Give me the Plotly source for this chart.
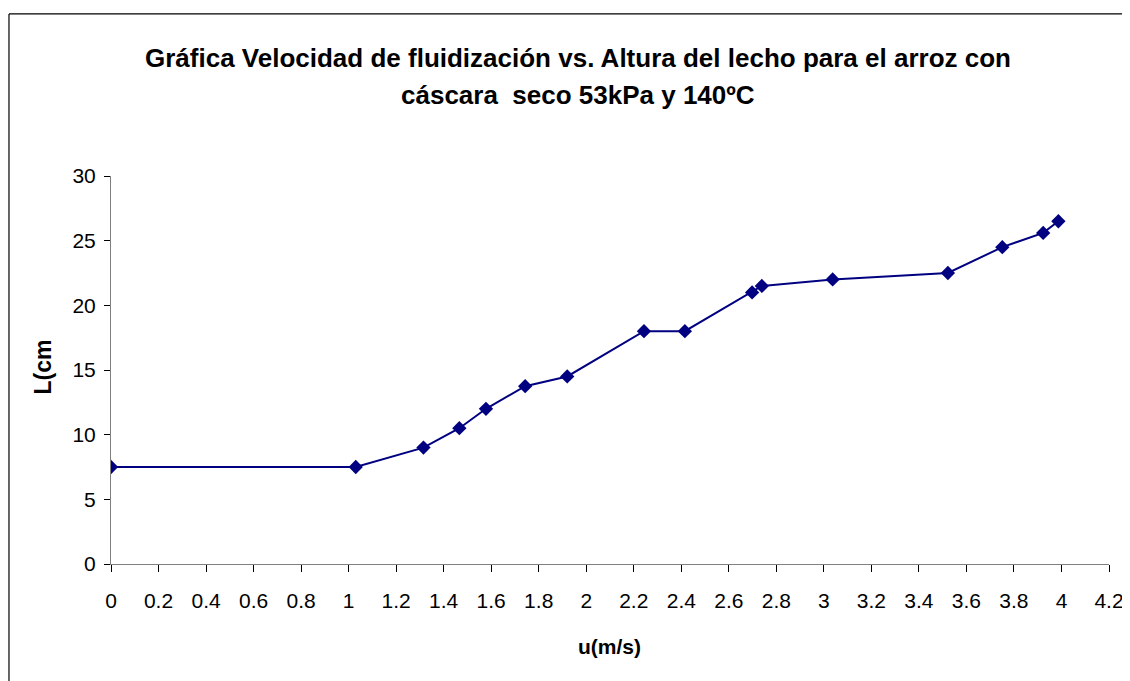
import plotly.graph_objects as go

# Data
u_ms = [0.0, 1.03, 1.315, 1.466, 1.578, 1.743, 1.92, 2.243, 2.415, 2.698, 2.739, 3.037, 3.522, 3.751, 3.923, 3.987]
L_cm = [7.5, 7.5, 9.0, 10.5, 12.0, 13.75, 14.5, 18.0, 18.0, 21.0, 21.5, 22.0, 22.5, 24.5, 25.6, 26.5]

x_tick_vals = [0, 0.2, 0.4, 0.6, 0.8, 1.0, 1.2, 1.4, 1.6, 1.8, 2.0, 2.2, 2.4, 2.6, 2.8, 3.0, 3.2, 3.4, 3.6, 3.8, 4.0, 4.2]
x_tick_text = ["0", "0.2", "0.4", "0.6", "0.8", "1", "1.2", "1.4", "1.6", "1.8", "2", "2.2", "2.4", "2.6", "2.8", "3", "3.2", "3.4", "3.6", "3.8", "4", "4.2"]
y_tick_vals = [0, 5, 10, 15, 20, 25, 30]
y_tick_text = ["0", "5", "10", "15", "20", "25", "30"]

title_line1 = "Gráfica Velocidad de fluidización vs. Altura del lecho para el arroz con"
title_line2 = "cáscara\u00a0 seco 53kPa y 140ºC"
x_title = "u(m/s)"
y_title = "L(cm"

FONT = "Liberation Sans, Arial, sans-serif"

W, H = 1130, 681
OFF = 8  # page body margin offset of the rendered figure

fig = go.Figure()
fig.add_trace(go.Scatter(
    x=u_ms, y=L_cm, mode="lines+markers",
    line=dict(color="#000080", width=2),
    marker=dict(symbol="diamond", size=11, color="#000080"),
    showlegend=False,
))

L_M = 110.7 - OFF
T_M = 175.7 - OFF
R_M = W - (1109.5 - OFF)
B_M = H - (564 - OFF)

fig.update_layout(
    width=W, height=H,
    margin=dict(l=L_M, r=R_M, t=T_M, b=B_M, autoexpand=False),
    paper_bgcolor="white", plot_bgcolor="white",
    font=dict(family=FONT, color="black", size=21),
    showlegend=False,
)

fig.update_xaxes(
    range=[0, 4.2], tickvals=x_tick_vals, ticktext=x_tick_text,
    showgrid=False, zeroline=False, showline=True, linecolor="#808080", linewidth=1,
    ticks="outside", ticklen=7, tickcolor="#000000", tickwidth=1,
    tickfont=dict(family=FONT, size=21, color="black"), ticklabelstandoff=11,
)
fig.update_yaxes(
    range=[0, 30], tickvals=y_tick_vals, ticktext=y_tick_text,
    showgrid=False, zeroline=False, showline=True, linecolor="#808080", linewidth=1,
    ticks="outside", ticklen=6, tickcolor="#000000", tickwidth=1,
    tickfont=dict(family=FONT, size=21, color="black"), ticklabelstandoff=4,
)

plot_w = W - L_M - R_M
plot_h = H - T_M - B_M

def sx(px):
    """screen x pixel -> paper x"""
    return (px - OFF - L_M) / plot_w

def sy(py):
    """screen y pixel -> paper y"""
    return (H - B_M - (py - OFF)) / plot_h

annotations = [
    dict(text="<b>" + title_line1 + "</b>", x=sx(578), y=sy(58),
         xref="paper", yref="paper", xanchor="center", yanchor="middle", showarrow=False,
         font=dict(family=FONT, size=26, color="black")),
    dict(text="<b>" + title_line2 + "</b>", x=sx(578), y=sy(95),
         xref="paper", yref="paper", xanchor="center", yanchor="middle", showarrow=False,
         font=dict(family=FONT, size=26, color="black")),
    dict(text="<b>" + x_title + "</b>", x=sx(610), y=sy(647),
         xref="paper", yref="paper", xanchor="center", yanchor="middle", showarrow=False,
         font=dict(family=FONT, size=21, color="black")),
    dict(text="<b>" + y_title + "</b>", x=sx(43), y=sy(367),
         xref="paper", yref="paper", xanchor="center", yanchor="middle", showarrow=False,
         textangle=-90, font=dict(family=FONT, size=23, color="black")),
]
fig.update_layout(annotations=annotations)

# Outer chart frame: only the top and left edges fall inside the picture
fig.add_shape(type="line", xref="paper", yref="paper",
              x0=sx(8.6), y0=sy(13.5), x1=sx(1300), y1=sy(13.5),
              line=dict(color="black", width=1.2), layer="below")
fig.add_shape(type="line", xref="paper", yref="paper",
              x0=sx(8.6), y0=sy(13.5), x1=sx(8.6), y1=sy(800),
              line=dict(color="black", width=1.2), layer="below")

fig.write_html("out.html", config={"displayModeBar": False})
